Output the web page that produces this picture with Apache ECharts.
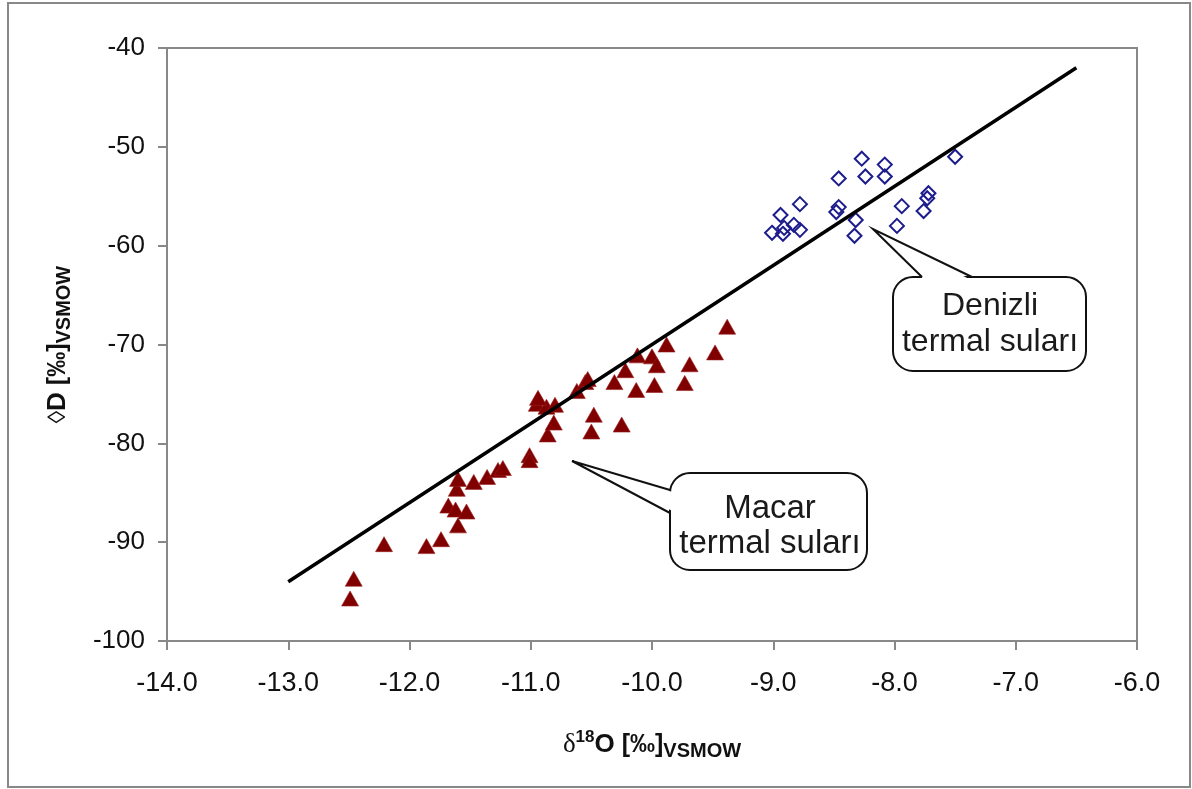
<!DOCTYPE html>
<html>
<head>
<meta charset="utf-8">
<script src="https://cdn.jsdelivr.net/npm/echarts@6/dist/echarts.min.js"></script>
<style>
  html, body { margin: 0; padding: 0; background: #fff; }
  #chart { width: 1192px; height: 789px; }
</style>
</head>
<body>
<div id="chart"></div>
<script>
// ---- data ----
const xTicks = [-14, -13, -12, -11, -10, -9, -8, -7, -6];
const yTicks = [-100, -90, -80, -70, -60, -50, -40];

// Macar termal suları (triangles)
const macarX = [-12.46, -12.49, -12.21, -11.86, -11.74, -11.60, -11.68, -11.62, -11.53, -11.61,
                -11.60, -11.47, -11.36, -11.27, -11.23, -11.01, -11.01, -10.86, -10.81, -10.95,
                -10.87, -10.80, -10.94, -10.62, -10.55, -10.53, -10.48, -10.50, -10.25, -10.31,
                -10.22, -10.13, -10.12, -10.00, -9.96, -9.98, -9.88, -9.69, -9.73, -9.48, -9.38];
const macarY = [-93.7, -95.7, -90.2, -90.4, -89.7, -88.3, -86.3, -86.7, -86.9, -84.6,
                -83.6, -83.9, -83.4, -82.7, -82.5, -81.2, -81.7, -79.1, -77.9, -76.0,
                -76.3, -76.1, -75.4, -74.7, -73.8, -73.5, -77.1, -78.8, -78.1, -73.8,
                -72.6, -74.6, -71.1, -71.2, -72.1, -74.1, -70.0, -72.0, -73.9, -70.8, -68.2];

// Denizli termal suları (diamonds)
const denizliX = [-9.01, -8.94, -8.92, -8.91, -8.83, -8.78, -8.78, -8.46, -8.48, -8.46,
                  -8.27, -8.24, -8.08, -8.08, -8.32, -8.33, -7.94, -7.98, -7.72, -7.73,
                  -7.76, -7.50];
const denizliY = [-58.7, -56.9, -58.8, -58.2, -57.9, -58.4, -55.8, -53.2, -56.6, -56.1,
                  -51.2, -53.0, -51.8, -53.0, -57.4, -59.0, -56.0, -58.0, -54.7, -55.2,
                  -56.5, -51.0];

// meteoric water line end points
const lineX = [-13.0, -6.5];
const lineY = [-94, -42];

// ---- build ----
const zip = (a, b) => a.map((v, i) => [v, b[i]]);
const FONT = 'Liberation Sans, Arial, sans-serif';

// speech bubble = rounded rect + white tail fill + tail outline
function bubble(x, y, w, h, p1, tip, p2, cover) {
  return [
    { type: 'rect', shape: { x: x, y: y, width: w, height: h, r: 20 },
      style: { fill: '#fff', stroke: '#111', lineWidth: 2 }, z: 10 },
    { type: 'polygon', shape: { points: [cover[0], tip, cover[1]] },
      style: { fill: '#fff', stroke: null }, z: 11 },
    { type: 'polyline', shape: { points: [p1, tip, p2] },
      style: { fill: null, stroke: '#111', lineWidth: 2 }, z: 12 }
  ];
}

const nameRich = {
  d: { fontFamily: 'Liberation Serif, serif', fontSize: 27, color: '#111', lineHeight: 32, verticalAlign: 'middle' },
  lz: { fontFamily: FONT, fontSize: 25, color: '#111', lineHeight: 32, verticalAlign: 'middle' },
  sup: { fontFamily: FONT, fontSize: 17, fontWeight: 'bold', color: '#111', lineHeight: 17, verticalAlign: 'top' },
  b: { fontFamily: FONT, fontSize: 26, fontWeight: 'bold', color: '#111', lineHeight: 28, verticalAlign: 'middle' },
  br: { fontFamily: FONT, fontSize: 25, fontWeight: 'bold', color: '#111', lineHeight: 28, verticalAlign: 'middle' },
  sub: { fontFamily: FONT, fontSize: 20, fontWeight: 'bold', color: '#111', lineHeight: 20, verticalAlign: 'bottom' }
};

const graphics = [
  { type: 'rect', shape: { x: 8, y: 3, width: 1182, height: 784 },
    style: { fill: 'none', stroke: '#888', lineWidth: 2 }, z: 0 }
]
  .concat(bubble(893, 277, 193, 94, [922, 277], [873, 229], [972, 277], [[924, 279.5], [970, 279.5]]))
  .concat(bubble(670, 473, 197, 97, [670, 490], [572, 461], [670, 513], [[672.5, 492], [672.5, 511]]))
  .concat([
    { type: 'text', x: 990, y: 324, z: 13,
      style: { text: 'Denizli\ntermal suları', align: 'center', verticalAlign: 'middle',
               fontFamily: FONT, fontSize: 32, lineHeight: 36, fill: '#1a1a1a' } },
    { type: 'text', x: 770, y: 526, z: 13,
      style: { text: 'Macar\ntermal suları', align: 'center', verticalAlign: 'middle',
               fontFamily: FONT, fontSize: 33, lineHeight: 35, fill: '#1a1a1a' } }
  ]);

const chart = echarts.init(document.getElementById('chart'), null, { renderer: 'canvas' });
chart.setOption({
  backgroundColor: '#fff',
  animation: false,
  grid: { left: 167, right: 55, top: 48, bottom: 148, show: true, borderColor: '#888', borderWidth: 2 },
  xAxis: {
    type: 'value', min: xTicks[0], max: xTicks[xTicks.length - 1], interval: 1,
    splitLine: { show: false },
    axisLine: { lineStyle: { color: '#888', width: 2 } },
    axisTick: { show: true, length: 9, lineStyle: { color: '#888', width: 2 } },
    axisLabel: { fontFamily: FONT, fontSize: 27, color: '#111', margin: 29, formatter: v => v.toFixed(1) },
    name: '{d|δ}{sup|18}{b|O}{br| [‰]}{sub|VSMOW}',
    nameLocation: 'middle', nameGap: 88,
    nameTextStyle: { rich: nameRich }
  },
  yAxis: {
    type: 'value', min: yTicks[0], max: yTicks[yTicks.length - 1], interval: 10,
    splitLine: { show: false },
    axisLine: { lineStyle: { color: '#888', width: 2 } },
    axisTick: { show: true, length: 9, lineStyle: { color: '#888', width: 2 } },
    axisLabel: { fontFamily: FONT, fontSize: 26, color: '#111', margin: 22 },
    name: '{lz|◊}{b|D}{br| [‰]}{sub|VSMOW}',
    nameLocation: 'middle', nameGap: 93, nameRotate: 90,
    nameTextStyle: { rich: nameRich }
  },
  series: [
    {
      name: 'Macar termal suları', type: 'scatter', data: zip(macarX, macarY),
      symbol: 'triangle', symbolSize: [17, 15],
      itemStyle: { color: '#800000', borderColor: '#9a2020', borderWidth: 0.6, opacity: 1 },
      z: 2
    },
    {
      name: 'Denizli termal suları', type: 'scatter', data: zip(denizliX, denizliY),
      symbol: 'diamond', symbolSize: [14, 14],
      itemStyle: { color: 'rgba(0,0,0,0)', borderColor: '#1c1c8c', borderWidth: 2, opacity: 1 },
      z: 2
    },
    {
      name: 'GMWL', type: 'line', data: zip(lineX, lineY),
      symbol: 'none', lineStyle: { color: '#000', width: 3.5 }, z: 3
    }
  ],
  graphic: graphics
});
</script>
</body>
</html>
